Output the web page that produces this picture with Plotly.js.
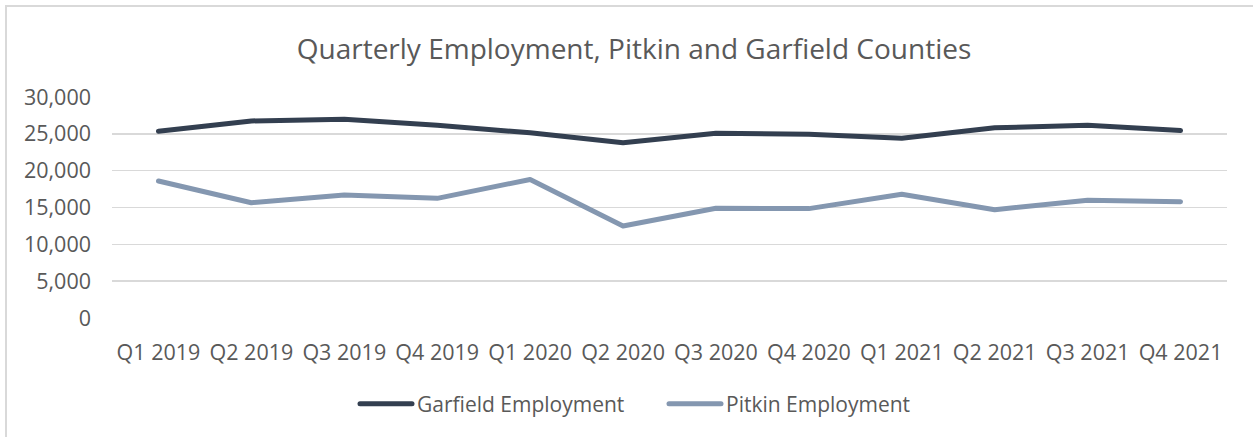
<!DOCTYPE html>
<html>
<head>
<meta charset="utf-8">
<script src="https://cdn.plot.ly/plotly-3.0.1.min.js"></script>
<style>
  html, body { margin: 0; padding: 0; background: #ffffff; overflow: hidden; }
  #wrap { position: relative; width: 1253px; height: 437px; }
  #chart { position: absolute; left: 0; top: 0; width: 1253px; height: 437px; }
  #frame { position: absolute; left: 5px; top: 5px; width: 1260px; height: 450px;
           border-left: 2px solid #d9d9d9; border-top: 2px solid #d9d9d9; pointer-events: none; }
  .scatterlayer path.js-line, .legendlines path { stroke-linecap: round; stroke-linejoin: round; }
</style>
</head>
<body>
<div id="wrap">
  <div id="chart"></div>
  <div id="frame"></div>
</div>
<script>
const quarters = ['Q1 2019', 'Q2 2019', 'Q3 2019', 'Q4 2019', 'Q1 2020', 'Q2 2020',
                  'Q3 2020', 'Q4 2020', 'Q1 2021', 'Q2 2021', 'Q3 2021', 'Q4 2021'];
const garfieldEmployment = [25350, 26750, 26980, 26150, 25150, 23780, 25080, 24930, 24400, 25820, 26170, 25440];
const pitkinEmployment = [18590, 15650, 16690, 16240, 18810, 12500, 14900, 14850, 16790, 14700, 15990, 15780];
const yTicks = [0, 5000, 10000, 15000, 20000, 25000, 30000];

const textColor = '#595959';
const fontFamily = '"Open Sans", "Noto Sans", sans-serif';

const traces = [
  { type: 'scatter', mode: 'lines', name: 'Garfield Employment', x: quarters, y: garfieldEmployment,
    line: { color: '#333f50', width: 5 }, hoverinfo: 'x+y' },
  { type: 'scatter', mode: 'lines', name: 'Pitkin Employment', x: quarters, y: pitkinEmployment,
    line: { color: '#8497b0', width: 5 }, hoverinfo: 'x+y' }
];

const layout = {
  width: 1253, height: 437,
  margin: { l: 112, r: 26, t: 97, b: 119 },
  paper_bgcolor: 'rgba(0,0,0,0)', plot_bgcolor: 'rgba(0,0,0,0)',
  font: { family: fontFamily, color: textColor, size: 21 },
  title: { text: 'Quarterly Employment, Pitkin and Garfield Counties',
           font: { family: fontFamily, size: 28, color: textColor },
           xref: 'container', x: 634 / 1253, xanchor: 'center',
           yref: 'container', y: 1 - 49 / 437, yanchor: 'middle' },
  xaxis: { type: 'category', range: [-0.5, quarters.length - 0.5], showgrid: false, zeroline: false,
           showline: false, ticks: '', tickfont: { size: 21.5, color: textColor },
           ticklabelstandoff: 19, fixedrange: true },
  yaxis: { range: [0, 30000], tickvals: yTicks, tickformat: ',', showgrid: true,
           gridcolor: '#d9d9d9', gridwidth: 1.5, zeroline: false, showline: false, ticks: '',
           tickfont: { size: 21.5, color: textColor }, ticklabelstandoff: 20, fixedrange: true },
  showlegend: true,
  legend: { orientation: 'h', xref: 'container', yref: 'container',
            x: 664 / 1253, xanchor: 'center', y: 1 - 404 / 437, yanchor: 'middle',
            font: { size: 21, color: textColor }, itemwidth: 52,
            entrywidth: 242, entrywidthmode: 'pixels', bgcolor: 'rgba(0,0,0,0)' }
};

Plotly.newPlot('chart', traces, layout, { displayModeBar: false, staticPlot: true });
</script>
</body>
</html>
